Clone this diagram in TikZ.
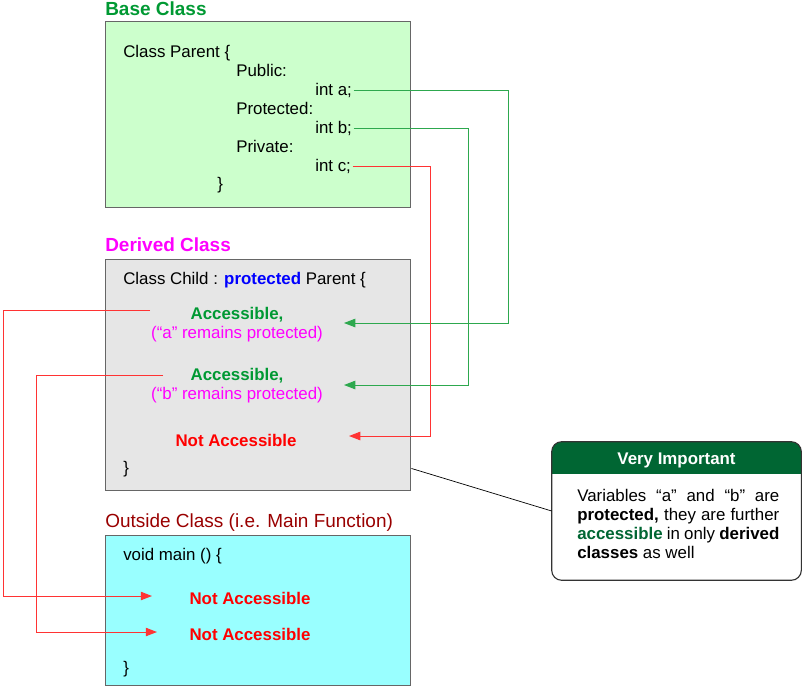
\documentclass[tikz,border=0pt]{standalone}
\usepackage{fontspec}
\setmainfont{Liberation Sans}
\usepackage{xcolor}
\usetikzlibrary{arrows.meta}
\definecolor{basebg}{HTML}{CCFFCC}
\definecolor{derbg}{HTML}{E6E6E6}
\definecolor{outbg}{HTML}{99FFFF}
\definecolor{frame}{HTML}{666666}
\definecolor{okgreen}{HTML}{009933}
\definecolor{lnkgreen}{HTML}{2DA84E}
\definecolor{nored}{HTML}{FF0000}
\definecolor{lnkred}{HTML}{FF3333}
\definecolor{remain}{HTML}{FF00FF}
\definecolor{kwblue}{HTML}{0000FF}
\definecolor{outred}{HTML}{990000}
\definecolor{notegreen}{HTML}{006633}
\tikzset{
  box/.style={draw=frame, line width=1pt, inner sep=0pt, anchor=north west},
  code/.style={anchor=west, inner sep=1pt, xshift=-1pt, yshift=-1.5pt, text height=0.72em, text depth=0pt, font=\fontsize{12}{13.5}\selectfont},
  mid/.style={anchor=center, inner sep=1pt, yshift=-1.5pt, text height=0.72em, text depth=0pt, font=\fontsize{12}{13.5}\selectfont},
  title/.style={anchor=west, inner sep=0pt, yshift=-1pt, text height=0.72em, text depth=0pt, font=\fontsize{13.5}{16}\selectfont},
  ok/.style={mid, text=okgreen, font=\fontsize{12}{13.5}\selectfont\bfseries},
  rem/.style={mid, text=remain},
  noacc/.style={mid, text=nored, font=\fontsize{12}{13.5}\selectfont\bfseries},
  linkg/.style={draw=lnkgreen, line width=0.7pt, -{Triangle[length=8pt,width=6pt]}},
  linkr/.style={draw=lnkred, line width=0.7pt, -{Triangle[length=8pt,width=6pt]}},
}

\begin{document}
\begin{tikzpicture}[x=0.025cm, y=-0.025cm]
  \useasboundingbox (0,0) rectangle (802,686);

  % base class
  \node[title, text=okgreen, font=\fontsize{13.5}{16}\selectfont\bfseries] (basetitle) at (105,9) {Base Class};
  \node[box, fill=basebg, minimum width=7.625cm, minimum height=4.65cm] (base) at (105,21) {};
  \node[code] (parent) at (123,50) {Class Parent \{};
  \node[code] (pub) at (236,69) {Public:};
  \node[code] (inta) at (315,88) {int a;};
  \node[code] (prot) at (236,107) {Protected:};
  \node[code] (intb) at (315,126) {int b;};
  \node[code] (priv) at (236,145) {Private:};
  \node[code] (intc) at (315,164) {int c;};
  \node[code] (pclose) at (217,182) {\}};

  % derived class
  \node[title, text=remain, font=\fontsize{13.5}{16}\selectfont\bfseries] (dertitle) at (105,245) {Derived Class};
  \node[box, fill=derbg, minimum width=7.625cm, minimum height=5.775cm] (derived) at (105,259) {};
  \node[code] (child) at (123,277) {Class Child : {\bfseries\color{kwblue}protected} Parent \{};
  \node[ok] (acca) at (237,312) {Accessible,};
  \node[rem] (rema) at (237,331) {(“a” remains protected)};
  \node[ok] (accb) at (237,373) {Accessible,};
  \node[rem] (remb) at (237,392) {(“b” remains protected)};
  \node[noacc] (noc) at (236,439) {Not Accessible};
  \node[code] (cclose) at (123,466) {\}};

  % outside class
  \node[title, text=outred] (outtitle) at (105,521) {Outside Class (i.e. Main Function)};
  \node[box, fill=outbg, minimum width=7.625cm, minimum height=3.75cm] (outside) at (105,535) {};
  \node[code] (main) at (123,553) {void main () \{};
  \node[noacc] (noa) at (250,597) {Not Accessible};
  \node[noacc] (nob) at (250,633) {Not Accessible};
  \node[code] (mclose) at (123,666) {\}};

  % routes
  \coordinate (colA) at (508,0);
  \coordinate (colB) at (468,0);
  \coordinate (colC) at (430,0);
  \coordinate (tipa) at (344,323);
  \coordinate (tipb) at (344,385);
  \coordinate (tipc) at (349,436);
  \draw[linkg] (inta.east) -- (inta.east -| colA) -- (colA |- tipa) -- (tipa);
  \draw[linkg] (intb.east) -- (intb.east -| colB) -- (colB |- tipb) -- (tipb);
  \draw[linkr] (intc.east) -- (intc.east -| colC) -- (colC |- tipc) -- (tipc);

  \coordinate (outa) at (150,310);
  \coordinate (outb) at (163,375);
  \coordinate (colL) at (3,0);
  \coordinate (colM) at (36,0);
  \coordinate (tipna) at (152,596);
  \coordinate (tipnb) at (157,632);
  \draw[linkr] (outa) -- (outa -| colL) -- (colL |- tipna) -- (tipna);
  \draw[linkr] (outb) -- (outb -| colM) -- (colM |- tipnb) -- (tipnb);

  % callout
  \node[fill=white, inner sep=0pt, minimum width=6.225cm, minimum height=3.45cm] (note) at (676.5,511) {};
  \begin{scope}
    \clip[rounded corners=0.25cm] (note.north west) rectangle (note.south east);
    \fill[notegreen] (note.north west) rectangle ([yshift=-0.8cm]note.north east);
  \end{scope}
  \draw[draw=black!80, line width=0.8pt, rounded corners=0.25cm] (note.north west) rectangle (note.south east);
  \node[text=white, inner sep=0pt, font=\fontsize{12}{13.5}\selectfont\bfseries] (hdr) at ([yshift=-0.46cm]note.north) {Very Important};
  \node[anchor=north west, inner sep=0pt, text width=5.05cm, align=justify, font=\fontsize{12}{13.5}\selectfont] (notetext) at (577,489)
    {Variables “a” and “b” are \textbf{protected,} they are further {\bfseries\color{notegreen}accessible} in only \textbf{derived classes} as well};
  \draw[black, line width=0.5pt] ([yshift=0.575cm]derived.south east) -- (note.west);
\end{tikzpicture}
\end{document}
